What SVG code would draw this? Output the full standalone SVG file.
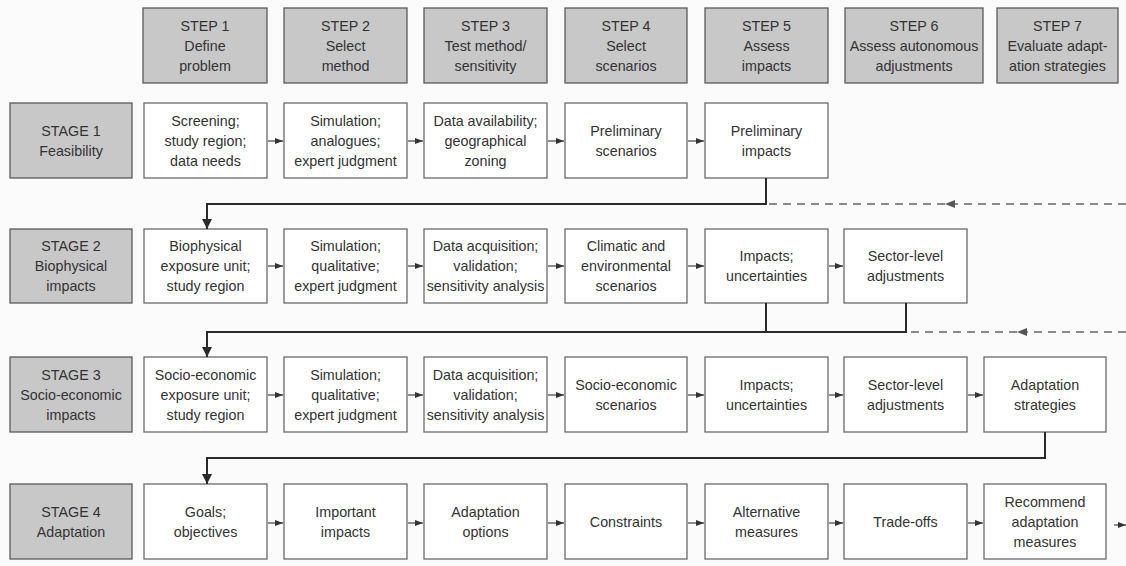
<svg xmlns="http://www.w3.org/2000/svg" width="1126" height="566" viewBox="0 0 1126 566">
<defs>
<style>
.bg{fill:#fbfbfb}
.hdr rect{fill:#c8c8c8;stroke:#5a5a5a;stroke-width:1.3}
.node rect{fill:#ffffff;stroke:#6a6a6a;stroke-width:1.3}
text{font-family:"Liberation Sans","DejaVu Sans",sans-serif;font-size:14.3px;fill:#333;text-anchor:middle}
.sm{stroke:#444;stroke-width:1.2;fill:none}
.main{stroke:#2a2a2a;stroke-width:2;fill:none}
.dash{stroke:#666;stroke-width:1.5;fill:none;stroke-dasharray:8 6}
</style>
<marker id="a" viewBox="0 0 8 6" markerWidth="8" markerHeight="6" markerUnits="userSpaceOnUse" refX="8" refY="3" orient="auto"><path d="M0,0 L8,3 L0,6 z" fill="#333"/></marker>
<marker id="b" viewBox="0 0 10 10" markerWidth="10" markerHeight="10" markerUnits="userSpaceOnUse" refX="10" refY="5" orient="auto"><path d="M0,0 L10,5 L0,10 z" fill="#2a2a2a"/></marker>
<marker id="d" viewBox="0 0 10 8" markerWidth="10" markerHeight="8" markerUnits="userSpaceOnUse" refX="10" refY="4" orient="auto"><path d="M0,0 L10,4 L0,8 z" fill="#555"/></marker>
</defs>
<rect class="bg" x="0" y="0" width="1126" height="566"/>

<g id="headers" class="hdr">
<g id="step1"><rect x="143" y="8" width="124" height="75"/><text x="205" y="30.5">STEP 1</text><text x="205" y="50.5">Define</text><text x="205" y="70.5">problem</text></g>
<g id="step2"><rect x="284" y="8" width="123" height="75"/><text x="345.5" y="30.5">STEP 2</text><text x="345.5" y="50.5">Select</text><text x="345.5" y="70.5">method</text></g>
<g id="step3"><rect x="424" y="8" width="123" height="75"/><text x="485.5" y="30.5">STEP 3</text><text x="485.5" y="50.5">Test method/</text><text x="485.5" y="70.5">sensitivity</text></g>
<g id="step4"><rect x="565" y="8" width="122" height="75"/><text x="626" y="30.5">STEP 4</text><text x="626" y="50.5">Select</text><text x="626" y="70.5">scenarios</text></g>
<g id="step5"><rect x="705" y="8" width="123" height="75"/><text x="766.5" y="30.5">STEP 5</text><text x="766.5" y="50.5">Assess</text><text x="766.5" y="70.5">impacts</text></g>
<g id="step6"><rect x="845" y="8" width="138" height="75"/><text x="914" y="30.5">STEP 6</text><text x="914" y="50.5">Assess autonomous</text><text x="914" y="70.5">adjustments</text></g>
<g id="step7"><rect x="997" y="8" width="121" height="75"/><text x="1057.5" y="30.5">STEP 7</text><text x="1057.5" y="50.5">Evaluate adapt-</text><text x="1057.5" y="70.5">ation strategies</text></g>
</g>

<g id="stages" class="hdr">
<g id="stage1"><rect x="10" y="103" width="122" height="75"/><text x="71" y="135.5">STAGE 1</text><text x="71" y="155.5">Feasibility</text></g>
<g id="stage2"><rect x="10" y="229" width="122" height="74"/><text x="71" y="251">STAGE 2</text><text x="71" y="271">Biophysical</text><text x="71" y="291">impacts</text></g>
<g id="stage3"><rect x="10" y="357" width="122" height="75"/><text x="71" y="379.5">STAGE 3</text><text x="71" y="399.5">Socio-economic</text><text x="71" y="419.5">impacts</text></g>
<g id="stage4"><rect x="10" y="484" width="122" height="75"/><text x="71" y="516.5">STAGE 4</text><text x="71" y="536.5">Adaptation</text></g>
</g>

<g id="row1" class="node">
<g id="r1c1"><rect x="144" y="103" width="123" height="75"/><text x="205.5" y="125.5">Screening;</text><text x="205.5" y="145.5">study region;</text><text x="205.5" y="165.5">data needs</text></g>
<g id="r1c2"><rect x="284" y="103" width="123" height="75"/><text x="345.5" y="125.5">Simulation;</text><text x="345.5" y="145.5">analogues;</text><text x="345.5" y="165.5">expert judgment</text></g>
<g id="r1c3"><rect x="424" y="103" width="123" height="75"/><text x="485.5" y="125.5">Data availability;</text><text x="485.5" y="145.5">geographical</text><text x="485.5" y="165.5">zoning</text></g>
<g id="r1c4"><rect x="565" y="103" width="122" height="75"/><text x="626" y="135.5">Preliminary</text><text x="626" y="155.5">scenarios</text></g>
<g id="r1c5"><rect x="705" y="103" width="123" height="75"/><text x="766.5" y="135.5">Preliminary</text><text x="766.5" y="155.5">impacts</text></g>
</g>

<g id="row2" class="node">
<g id="r2c1"><rect x="144" y="229" width="123" height="74"/><text x="205.5" y="251">Biophysical</text><text x="205.5" y="271">exposure unit;</text><text x="205.5" y="291">study region</text></g>
<g id="r2c2"><rect x="284" y="229" width="123" height="74"/><text x="345.5" y="251">Simulation;</text><text x="345.5" y="271">qualitative;</text><text x="345.5" y="291">expert judgment</text></g>
<g id="r2c3"><rect x="424" y="229" width="123" height="74"/><text x="485.5" y="251">Data acquisition;</text><text x="485.5" y="271">validation;</text><text x="485.5" y="291">sensitivity analysis</text></g>
<g id="r2c4"><rect x="565" y="229" width="122" height="74"/><text x="626" y="251">Climatic and</text><text x="626" y="271">environmental</text><text x="626" y="291">scenarios</text></g>
<g id="r2c5"><rect x="705" y="229" width="123" height="74"/><text x="766.5" y="261">Impacts;</text><text x="766.5" y="281">uncertainties</text></g>
<g id="r2c6"><rect x="844" y="229" width="123" height="74"/><text x="905.5" y="261">Sector-level</text><text x="905.5" y="281">adjustments</text></g>
</g>

<g id="row3" class="node">
<g id="r3c1"><rect x="144" y="357" width="123" height="75"/><text x="205.5" y="379.5">Socio-economic</text><text x="205.5" y="399.5">exposure unit;</text><text x="205.5" y="419.5">study region</text></g>
<g id="r3c2"><rect x="284" y="357" width="123" height="75"/><text x="345.5" y="379.5">Simulation;</text><text x="345.5" y="399.5">qualitative;</text><text x="345.5" y="419.5">expert judgment</text></g>
<g id="r3c3"><rect x="424" y="357" width="123" height="75"/><text x="485.5" y="379.5">Data acquisition;</text><text x="485.5" y="399.5">validation;</text><text x="485.5" y="419.5">sensitivity analysis</text></g>
<g id="r3c4"><rect x="565" y="357" width="122" height="75"/><text x="626" y="389.5">Socio-economic</text><text x="626" y="409.5">scenarios</text></g>
<g id="r3c5"><rect x="705" y="357" width="123" height="75"/><text x="766.5" y="389.5">Impacts;</text><text x="766.5" y="409.5">uncertainties</text></g>
<g id="r3c6"><rect x="844" y="357" width="123" height="75"/><text x="905.5" y="389.5">Sector-level</text><text x="905.5" y="409.5">adjustments</text></g>
<g id="r3c7"><rect x="984" y="357" width="122" height="75"/><text x="1045" y="389.5">Adaptation</text><text x="1045" y="409.5">strategies</text></g>
</g>

<g id="row4" class="node">
<g id="r4c1"><rect x="144" y="484" width="123" height="75"/><text x="205.5" y="516.5">Goals;</text><text x="205.5" y="536.5">objectives</text></g>
<g id="r4c2"><rect x="284" y="484" width="123" height="75"/><text x="345.5" y="516.5">Important</text><text x="345.5" y="536.5">impacts</text></g>
<g id="r4c3"><rect x="424" y="484" width="123" height="75"/><text x="485.5" y="516.5">Adaptation</text><text x="485.5" y="536.5">options</text></g>
<g id="r4c4"><rect x="565" y="484" width="122" height="75"/><text x="626" y="526.5">Constraints</text></g>
<g id="r4c5"><rect x="705" y="484" width="123" height="75"/><text x="766.5" y="516.5">Alternative</text><text x="766.5" y="536.5">measures</text></g>
<g id="r4c6"><rect x="844" y="484" width="123" height="75"/><text x="905.5" y="526.5">Trade-offs</text></g>
<g id="r4c7"><rect x="984" y="484" width="122" height="75"/><text x="1045" y="506.5">Recommend</text><text x="1045" y="526.5">adaptation</text><text x="1045" y="546.5">measures</text></g>
</g>

<g id="connectors">
<g class="sm" marker-end="url(#a)">
<path d="M268,141 H283"/><path d="M408,141 H423"/><path d="M548,141 H564"/><path d="M688,141 H704"/>
<path d="M268,266 H283"/><path d="M408,266 H423"/><path d="M548,266 H564"/><path d="M688,266 H704"/><path d="M829,266 H843"/>
<path d="M268,395 H283"/><path d="M408,395 H423"/><path d="M548,395 H564"/><path d="M688,395 H704"/><path d="M829,395 H843"/><path d="M968,395 H983"/>
<path d="M268,523 H283"/><path d="M408,523 H423"/><path d="M548,523 H564"/><path d="M688,523 H704"/><path d="M829,523 H843"/><path d="M968,523 H983"/>
<path d="M1114,525 H1126"/>
</g>
<path class="main" d="M766,178 V204 H207 V229" marker-end="url(#b)"/>
<path class="main" d="M766,303 V332 M906,303 V332 H207 V357" marker-end="url(#b)"/>
<path class="main" d="M1045,432 V458 H207 V484" marker-end="url(#b)"/>
<path class="dash" d="M1126,204 H945" marker-end="url(#d)"/>
<path class="dash" d="M945,204 H767"/>
<path class="dash" d="M1126,332 H1017" marker-end="url(#d)"/>
<path class="dash" d="M1017,332 H907"/>
</g>
</svg>
